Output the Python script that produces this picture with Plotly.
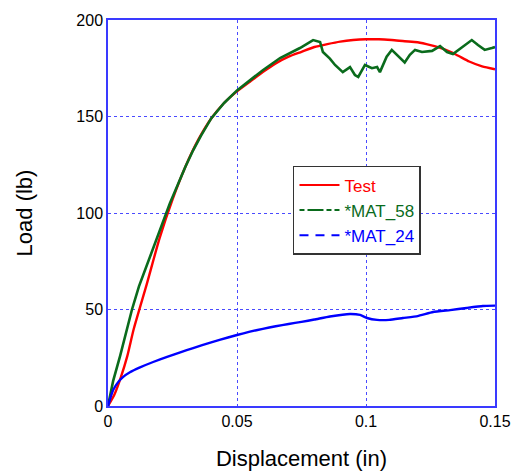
import plotly.graph_objects as go

# ---- data ----
test_x = [0, 0.0025, 0.005, 0.0075, 0.01, 0.015, 0.02, 0.025, 0.03, 0.035, 0.04, 0.045, 0.05,
          0.055, 0.06, 0.065, 0.07, 0.075, 0.08, 0.085, 0.09, 0.095, 0.1, 0.105, 0.11,
          0.115, 0.12, 0.125, 0.13, 0.135, 0.14, 0.145, 0.15]
test_y = [0, 6, 15, 26, 40, 63, 87, 107, 124, 138, 149, 157, 163,
          168, 173, 177.5, 181, 183.5, 186, 187.5, 188.8, 189.6, 190, 190, 189.6,
          189, 188.5, 187, 185, 182, 178.5, 176, 174.5]

mat58_x = [0, 0.001, 0.002, 0.0047, 0.007, 0.0093, 0.012, 0.015, 0.018, 0.021, 0.024, 0.027,
           0.03, 0.033, 0.036, 0.04, 0.045, 0.05, 0.055, 0.06, 0.0667, 0.0744, 0.0795,
           0.0822, 0.0833, 0.086, 0.088, 0.091, 0.0938, 0.0957, 0.097, 0.0996, 0.1023,
           0.1043, 0.1054, 0.108, 0.110, 0.1132, 0.115, 0.117, 0.119, 0.1217, 0.1256,
           0.1287, 0.1314, 0.1337, 0.1376, 0.141, 0.1434, 0.146, 0.1488, 0.15]
mat58_y = [0, 7, 13, 26, 38, 50, 62, 73, 84, 95, 105, 114.5,
           124, 132.5, 140, 149, 157, 163.5, 169, 174, 180.3, 185.5, 189.6,
           188.6, 183.4, 180, 176.7, 173, 175.6, 171.5, 170.5, 176.7, 175,
           175.6, 173, 181, 184.5, 180.3, 178, 182, 184.5, 183.4, 184,
           186.5, 183.4, 182.4, 186, 189.6, 187, 184.5, 185.5, 186]

mat24_x = [0, 0.001, 0.002, 0.004, 0.0058, 0.0085, 0.0124, 0.0175, 0.0229, 0.028, 0.033, 0.04,
           0.0465, 0.05, 0.055, 0.06, 0.065, 0.07, 0.075, 0.08, 0.086, 0.0938, 0.0977,
           0.1004, 0.1043, 0.109, 0.1143, 0.12, 0.126, 0.1326, 0.139, 0.1453, 0.15]
mat24_y = [0, 4.5, 8.3, 12.5, 15, 17.5, 20, 22.8, 25.4, 27.8, 30, 33,
           35.5, 36.8, 38.5, 40, 41.3, 42.5, 43.6, 44.8, 46.4, 47.7, 47.2,
           45.6, 44.6, 44.6, 45.6, 46.6, 48.7, 49.7, 50.8, 51.8, 52]

x_ticks = [0, 0.05, 0.1, 0.15]
x_tick_labels = ["0", "0.05", "0.1", "0.15"]
y_ticks = [0, 50, 100, 150, 200]

RED = "#ff0000"
GREEN = "#0a6b1c"
BLUE = "#0000ff"
AXIS = "#3a3aff"
GRID = "#4a4aff"

fig = go.Figure()

# plotted curves
fig.add_trace(go.Scatter(x=test_x, y=test_y, mode="lines", showlegend=False,
                         line=dict(color=RED, width=2.4, shape="spline", smoothing=0.6)))
fig.add_trace(go.Scatter(x=mat58_x, y=mat58_y, mode="lines", showlegend=False,
                         line=dict(color=GREEN, width=2.6)))
fig.add_trace(go.Scatter(x=mat24_x, y=mat24_y, mode="lines", showlegend=False,
                         line=dict(color=BLUE, width=2.4, shape="spline", smoothing=0.4)))

# legend entries
fig.add_trace(go.Scatter(x=[None], y=[None], mode="lines",
                         name="<span style='color:#ff0000'>Test</span>",
                         line=dict(color=RED, width=2)))
fig.add_trace(go.Scatter(x=[None], y=[None], mode="lines",
                         name="<span style='color:#0a6b1c'>*MAT_58</span>",
                         line=dict(color=GREEN, width=2, dash="5px,3px,16px,3px")))
fig.add_trace(go.Scatter(x=[None], y=[None], mode="lines",
                         name="<span style='color:#0000ff'>*MAT_24</span>",
                         line=dict(color=BLUE, width=2, dash="9px,7px")))

fig.update_layout(
    width=514, height=475,
    margin=dict(l=108, r=19, t=20, b=69),
    paper_bgcolor="white", plot_bgcolor="white",
    font=dict(family="Liberation Sans, Arial, sans-serif", color="black", size=16),
    showlegend=True,
    legend=dict(x=0.478, y=0.622, xanchor="left", yanchor="top",
                bgcolor="white", bordercolor="#333333", borderwidth=1.5,
                font=dict(size=17), itemwidth=40, tracegroupgap=0,
                traceorder="normal"),
    xaxis=dict(range=[0, 0.15], tickvals=x_ticks, ticktext=x_tick_labels,
               showline=True, linecolor=AXIS, linewidth=1.5, mirror=True,
               showgrid=True, gridcolor=GRID, griddash="dot", gridwidth=1,
               ticks="", zeroline=False, tickfont=dict(size=16), automargin=False,
               title=dict(text="Displacement (in)", font=dict(size=22), standoff=22)),
    yaxis=dict(range=[0, 200], tickvals=y_ticks,
               showline=True, linecolor=AXIS, linewidth=1.5, mirror=True,
               showgrid=True, gridcolor=GRID, griddash="dot", gridwidth=1,
               ticks="", zeroline=False, tickfont=dict(size=16), automargin=False,
               title=dict(text="Load (lb)", font=dict(size=22), standoff=38)),
)

fig.write_html("out.html")
